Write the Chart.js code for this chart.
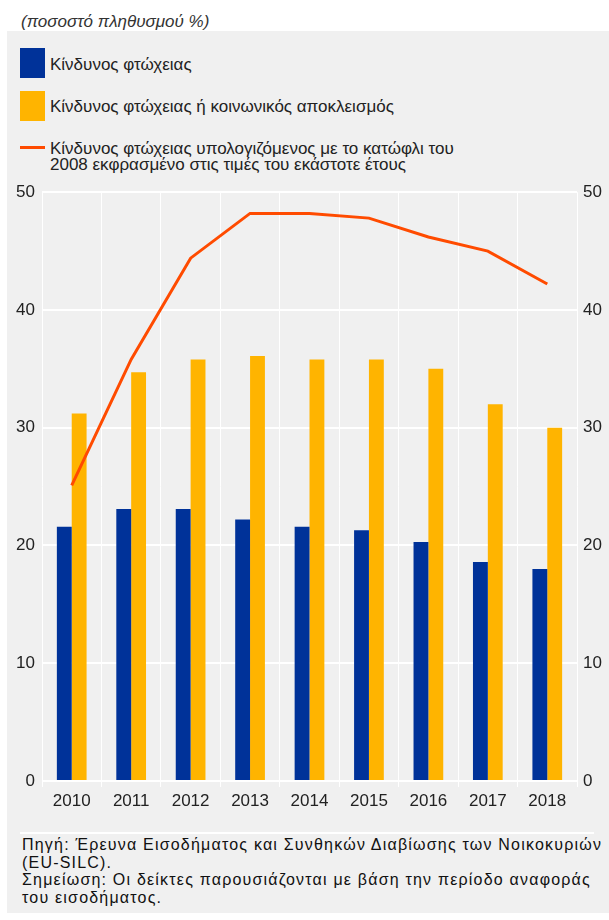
<!DOCTYPE html>
<html>
<head>
<meta charset="utf-8">
<script src="https://cdn.jsdelivr.net/npm/chart.js@4/dist/chart.umd.min.js"></script>
<style>
  body { margin: 0; background: #fff; width: 609px; height: 920px; overflow: hidden; position: relative;
         font-family: "Liberation Sans", Arial, sans-serif; color: #222; }
  #title { position: absolute; left: 21px; top: 12px; font-size: 17px; font-style: italic; line-height: 20px; color: #333; }
  #panel { position: absolute; left: 7px; top: 31px; width: 602px; height: 882px; background: #f0f0f0; }
  .box { position: absolute; left: 13px; width: 25px; height: 30px; }
  .ltext { position: absolute; left: 43px; font-size: 17px; line-height: 16px; white-space: nowrap; color: #222; }
  .lline { position: absolute; left: 13px; top: 115px; width: 25px; height: 3px; background: #ff4b00; }
  #chartBox { position: absolute; left: 0; top: 144px; width: 602px; height: 645px; }
  #sep { position: absolute; left: 13px; top: 801px; width: 574px; height: 2px; background: #fff; }
  #foot { position: absolute; left: 15px; top: 805px; font-size: 16px; letter-spacing: 1.2px; line-height: 17.7px; white-space: nowrap; color: #111; }
</style>
</head>
<body>
<div id="title">(ποσοστό πληθυσμού %)</div>
<div id="panel">
  <div class="box" style="top:17px;background:#003299"></div>
  <div class="ltext" style="top:26px">Κίνδυνος φτώχειας</div>
  <div class="box" style="top:60px;background:#ffb400"></div>
  <div class="ltext" style="top:68px">Κίνδυνος φτώχειας ή κοινωνικός αποκλεισμός</div>
  <div class="lline"></div>
  <div class="ltext" style="top:110px">Κίνδυνος φτώχειας υπολογιζόμενος με το κατώφλι του<br>2008 εκφρασμένο στις τιμές του εκάστοτε έτους</div>
  <div id="chartBox"><canvas id="chart"></canvas></div>
  <div id="sep"></div>
  <div id="foot">Πηγή: Έρευνα Εισοδήματος και Συνθηκών Διαβίωσης των Νοικοκυριών<br>(EU-SILC).<br>Σημείωση: Οι δείκτες παρουσιάζονται με βάση την περίοδο αναφοράς<br>του εισοδήματος.</div>
</div>
<script>
var years = ['2010', '2011', '2012', '2013', '2014', '2015', '2016', '2017', '2018'];
var povertyRisk = [21.6, 23.1, 23.1, 22.2, 21.6, 21.3, 20.3, 18.6, 18.0];
var povertyOrExclusion = [31.2, 34.7, 35.8, 36.1, 35.8, 35.8, 35.0, 32.0, 30.0];
var anchoredRisk = [25.1, 35.8, 44.4, 48.2, 48.2, 47.8, 46.2, 45.0, 42.2];
var yTicks = [0, 10, 20, 30, 40, 50];

var tickFont = { family: 'Liberation Sans', size: 17 };

var ctx = document.getElementById('chart').getContext('2d');
var chart = new Chart(ctx, {
    type: 'bar',
    data: {
        labels: years,
        datasets: [
            {
                type: 'line',
                label: 'Κίνδυνος φτώχειας υπολογιζόμενος με το κατώφλι του 2008',
                data: anchoredRisk,
                borderColor: '#ff4b00',
                backgroundColor: '#ff4b00',
                borderWidth: 3,
                pointRadius: 0,
                tension: 0,
                fill: false,
                order: 0
            },
            {
                label: 'Κίνδυνος φτώχειας',
                data: povertyRisk,
                backgroundColor: '#003299',
                categoryPercentage: 0.5,
                barPercentage: 1,
                order: 1
            },
            {
                label: 'Κίνδυνος φτώχειας ή κοινωνικός αποκλεισμός',
                data: povertyOrExclusion,
                backgroundColor: '#ffb400',
                categoryPercentage: 0.5,
                barPercentage: 1,
                order: 1
            }
        ]
    },
    options: {
        responsive: true,
        maintainAspectRatio: false,
        animation: false,
        layout: { padding: 0 },
        plugins: {
            legend: { display: false },
            tooltip: { enabled: false }
        },
        scales: {
            x: {
                offset: true,
                grid: { color: '#ffffff', lineWidth: 1, tickLength: 6, offset: true },
                border: { display: false },
                ticks: { color: '#222', font: tickFont, padding: 4 },
                afterFit: function(s) { s.height = 39; }
            },
            y: {
                position: 'left',
                min: 0,
                max: 50,
                afterBuildTicks: function(s) { s.ticks = yTicks.map(function(v) { return { value: v }; }); },
                grid: { color: '#ffffff', lineWidth: 2, drawTicks: false },
                border: { display: false },
                ticks: { color: '#222', font: tickFont, padding: 7 },
                afterFit: function(s) { s.width = 35; }
            },
            y2: {
                position: 'right',
                min: 0,
                max: 50,
                afterBuildTicks: function(s) { s.ticks = yTicks.map(function(v) { return { value: v }; }); },
                grid: { display: false, drawTicks: false },
                border: { display: false },
                ticks: { color: '#222', font: tickFont, padding: 6 },
                afterFit: function(s) { s.width = 32; }
            }
        }
    }
});
</script>
</body>
</html>
